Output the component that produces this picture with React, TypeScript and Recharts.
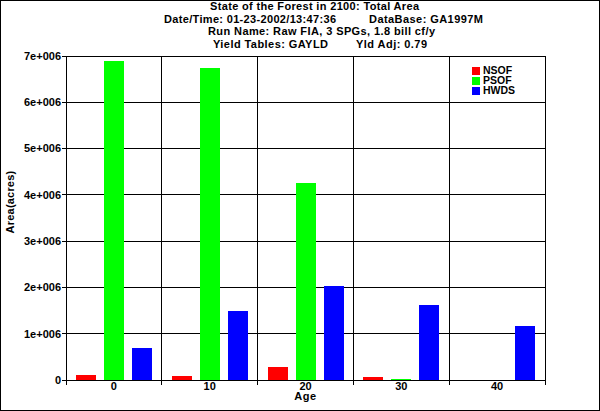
import React from 'react';
import { BarChart, Bar, XAxis, YAxis, CartesianGrid, Legend } from 'recharts';

const ages = ['0', '10', '20', '30', '40'];
const nsof = [115000, 93000, 287000, 71000, 0];
const psof = [6900000, 6740000, 4250000, 25000, 0];
const hwds = [700000, 1490000, 2040000, 1610000, 1170000];
const yTicks = [0, 1000000, 2000000, 3000000, 4000000, 5000000, 6000000, 7000000];
const seriesNames = ['NSOF', 'PSOF', 'HWDS'];
const seriesColors = ['#ff0000', '#00ff00', '#0000ff'];

const titleLine1 = 'State of the Forest in 2100: Total Area';
const titleLine2a = 'Date/Time: 01-23-2002/13:47:36';
const titleLine2b = 'DataBase: GA1997M';
const titleLine3 = 'Run Name: Raw FIA, 3 SPGs, 1.8 bill cf/y';
const titleLine4a = 'Yield Tables: GAYLD';
const titleLine4b = 'Yld Adj: 0.79';
const xLabel = 'Age';
const yLabel = 'Area(acres)';

const data = ages.map((age, i) => ({ age, NSOF: nsof[i], PSOF: psof[i], HWDS: hwds[i] }));

const FONT = '"Liberation Sans", Arial, Helvetica, sans-serif';

const fmtY = (v: number) => (v === 0 ? '0' : `${Math.round(v / 1000000)}e+006`);

function XTick(props: any) {
  const { x, y, payload, index } = props;
  const half = typeof payload?.offset === 'number' ? payload.offset : 0;
  const last = index === ages.length - 1;
  return (
    <g>
      <line x1={x - half} x2={x - half} y1={y - 5} y2={y} stroke="#000" />
      {last && <line x1={x + half} x2={x + half} y1={y - 5} y2={y} stroke="#000" />}
      <text x={x} y={y + 5} textAnchor="middle" fill="#000" fontFamily={FONT} fontWeight="bold" fontSize={11}>
        {payload.value}
      </text>
    </g>
  );
}

function LegendContent(props: any) {
  const items = ((props.payload || []) as any[])
    .slice()
    .sort((a, b) => seriesNames.indexOf(a.value) - seriesNames.indexOf(b.value));
  return (
    <div style={{ fontFamily: FONT, fontWeight: 'bold', fontSize: 10.5, lineHeight: '10px', color: '#000' }}>
      {items.map((it) => (
        <div key={it.value} style={{ display: 'flex', alignItems: 'flex-start', height: 10, whiteSpace: 'nowrap' }}>
          <span style={{ display: 'inline-block', width: 8, height: 8, marginTop: 2, marginRight: 3, background: it.color }} />
          <span style={{ display: 'block', height: 10, lineHeight: '10px', overflow: 'visible' }}>{it.value}</span>
        </div>
      ))}
    </div>
  );
}

export default function App() {
  const tStyle = { fontFamily: FONT, fontWeight: 'bold' as const, fontSize: 11, fill: '#000' };
  return (
    <div style={{ position: 'absolute', left: 0, top: 0, width: 600, height: 411, background: '#fff' }}>
      <style>{`.recharts-wrapper line, .recharts-wrapper path { shape-rendering: crispEdges; }`}</style>
      <BarChart
        width={600}
        height={411}
        data={data}
        margin={{ top: 56, right: 55, bottom: 0, left: 0 }}
        barCategoryGap={10}
        barGap={8}
      >
        <CartesianGrid
          stroke="#000"
          verticalCoordinatesGenerator={({ offset }: any) => {
            const pts: number[] = [];
            for (let i = 0; i <= ages.length; i++) pts.push(offset.left + (i * offset.width) / ages.length);
            return pts;
          }}
        />
        <XAxis
          dataKey="age"
          height={31}
          interval={0}
          tickLine={false}
          tickSize={5}
          tickMargin={0}
          axisLine={{ stroke: '#000' }}
          tick={<XTick />}
          label={{ value: xLabel, position: 'insideBottom', offset: 11, style: { ...tStyle, letterSpacing: 0.5 } }}
        />
        <YAxis
          width={66}
          domain={[0, 7000000]}
          ticks={yTicks}
          interval={0}
          tickFormatter={fmtY}
          tickSize={4}
          tickMargin={1}
          axisLine={{ stroke: '#000' }}
          tickLine={{ stroke: '#000' }}
          tick={{ fill: '#000', fontSize: 11, fontWeight: 'bold', fontFamily: FONT }}
        />
        <Legend
          layout="vertical"
          align="center"
          verticalAlign="middle"
          wrapperStyle={{ left: 472, top: 65, width: 'auto', height: 'auto' }}
          content={<LegendContent />}
        />
        {seriesNames.map((name, i) => (
          <Bar key={name} dataKey={name} fill={seriesColors[i]} isAnimationActive={false} />
        ))}
      </BarChart>
      <svg width={600} height={411} style={{ position: 'absolute', left: 0, top: 0, pointerEvents: 'none' }}>
        <text x={210} y={10} textLength={209} lengthAdjust="spacing" style={tStyle}>{titleLine1}</text>
        <text x={164} y={22.5} textLength={172} lengthAdjust="spacing" style={tStyle}>{titleLine2a}</text>
        <text x={369} y={22.5} textLength={114} lengthAdjust="spacing" style={tStyle}>{titleLine2b}</text>
        <text x={208} y={35} textLength={227} lengthAdjust="spacing" style={tStyle}>{titleLine3}</text>
        <text x={213} y={47.5} textLength={115} lengthAdjust="spacing" style={tStyle}>{titleLine4a}</text>
        <text x={356} y={47.5} textLength={71} lengthAdjust="spacing" style={tStyle}>{titleLine4b}</text>
        <text transform="translate(14,202) rotate(-90)" textAnchor="middle" style={{ ...tStyle, letterSpacing: 0.2 }}>{yLabel}</text>
      </svg>
      <div style={{ position: 'absolute', left: 0, top: 0, width: 600, height: 411, border: '1px solid #000', boxSizing: 'border-box', pointerEvents: 'none' }} />
    </div>
  );
}
